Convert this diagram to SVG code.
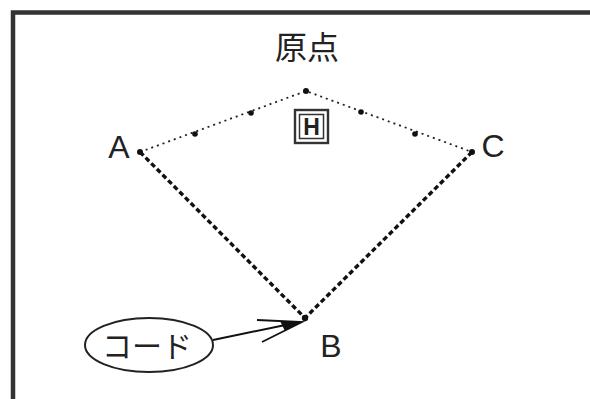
<svg xmlns="http://www.w3.org/2000/svg" width="590" height="399" viewBox="0 0 590 399">
<style>
.lbl{font-family:"Liberation Sans","Noto Sans CJK JP",sans-serif;fill:#222;text-anchor:middle}
.thin{fill:none;stroke:#222;stroke-width:1.8;stroke-dasharray:2 4}
.thick{fill:none;stroke:#111;stroke-width:3.4;stroke-dasharray:5 3}
.dot{fill:#111}
</style>
<rect width="590" height="399" fill="#fff"/>
<g id="frame"><path d="M13,402 V12.5 H595" fill="none" stroke="#333" stroke-width="4.5"/></g>
<g id="connectors">
<polyline class="thin" points="140,152 306,91 472,152"/>
<line class="thick" x1="140" y1="152" x2="305" y2="318"/>
<line class="thick" x1="472" y1="152" x2="305" y2="318"/>
<circle class="dot" cx="195" cy="134" r="2.8"/>
<circle class="dot" cx="251" cy="113" r="2.8"/>
<circle class="dot" cx="306" cy="91" r="3"/>
<circle class="dot" cx="361" cy="112" r="2.8"/>
<circle class="dot" cx="415" cy="134" r="2.8"/>
<circle class="dot" cx="140" cy="152" r="3"/>
<circle class="dot" cx="472" cy="152" r="3"/>
<circle class="dot" cx="305" cy="318" r="3.2"/>
<path d="M213,340 L300,322" fill="none" stroke="#111" stroke-width="2"/>
<path d="M257,320 L302,322 L262,342" fill="none" stroke="#111" stroke-width="1.8"/>
<path d="M280,321 L302,322 L285,331 Z" fill="#111"/>
</g>
<g id="origin"><text class="lbl" x="307" y="59" font-size="32">原点</text></g>
<g id="H"><rect x="295" y="110" width="33" height="33" fill="#fff" stroke="#333" stroke-width="2.4"/><rect x="299.5" y="114.5" width="24" height="24" fill="none" stroke="#333" stroke-width="1.5"/><text class="lbl" x="311.5" y="134.5" font-size="23" font-weight="bold" fill="#111">H</text></g>
<g id="A"><text class="lbl" x="119" y="158" font-size="32">A</text></g>
<g id="C"><text class="lbl" x="493" y="157" font-size="32">C</text></g>
<g id="B"><text class="lbl" x="331" y="357" font-size="32">B</text></g>
<g id="code"><ellipse cx="149" cy="345" rx="64" ry="27" fill="#fff" stroke="#222" stroke-width="2"/><text class="lbl" x="147" y="357" font-size="30">コード</text></g>
</svg>
